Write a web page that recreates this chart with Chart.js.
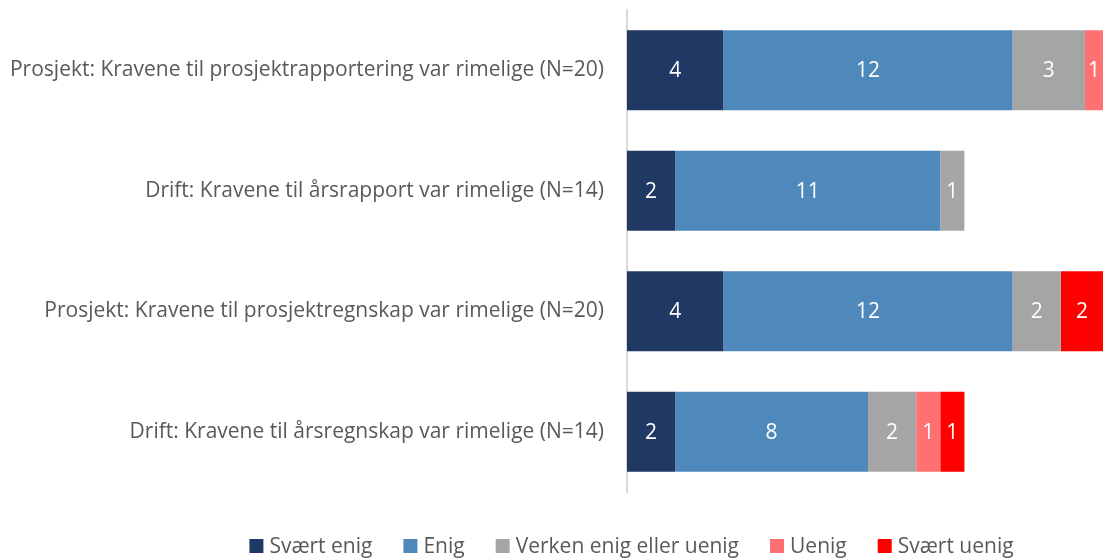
<!DOCTYPE html>
<html>
<head>
<meta charset="utf-8">
<script src="https://cdn.jsdelivr.net/npm/chart.js@4.4.0/dist/chart.umd.min.js"></script>
<style>
  html, body { margin: 0; padding: 0; background: #fff; }
  #wrap { width: 1103px; height: 559px; }
</style>
</head>
<body>
<div id="wrap"><canvas id="chart"></canvas></div>
<script>
// Data
const categories = [
    'Prosjekt: Kravene til prosjektrapportering var rimelige (N=20)',
    'Drift: Kravene til årsrapport var rimelige (N=14)',
    'Prosjekt: Kravene til prosjektregnskap var rimelige (N=20)',
    'Drift: Kravene til årsregnskap var rimelige (N=14)'
];
const seriesNames = ['Svært enig', 'Enig', 'Verken enig eller uenig', 'Uenig', 'Svært uenig'];
const svaertEnig = [4, 2, 4, 2];
const enig = [12, 11, 12, 8];
const verken = [3, 1, 2, 2];
const uenig = [1, 0, 0, 1];
const svaertUenig = [0, 0, 2, 1];
const seriesColors = ['#1F3864', '#4F89BC', '#A5A5A5', '#FF7171', '#FF0000'];

const allSeries = [svaertEnig, enig, verken, uenig, svaertUenig];
const FONT = '"Open Sans", "Noto Sans", sans-serif';
const FONT_SIZE = 21;

// white value labels in the middle of each segment
const valueLabels = {
    id: 'valueLabels',
    afterDatasetsDraw(chart) {
        const ctx = chart.ctx;
        const area = chart.chartArea;
        ctx.save();
        ctx.font = FONT_SIZE + 'px ' + FONT;
        ctx.fillStyle = '#fff';
        ctx.textAlign = 'center';
        ctx.textBaseline = 'middle';
        chart.data.datasets.forEach((ds, i) => {
            chart.getDatasetMeta(i).data.forEach((bar, j) => {
                const v = ds.data[j];
                if (!v) return;
                const p = bar.getProps(['x', 'y', 'base'], true);
                // the plot is cut at the right edge, centre on the visible part
                const right = Math.min(p.x, area.right);
                ctx.fillText(String(v), (right + p.base) / 2, p.y + 1);
            });
        });
        ctx.restore();
    }
};

// legend drawn by hand so it can sit where the original one is
const bottomLegend = {
    id: 'bottomLegend',
    afterDraw(chart) {
        const ctx = chart.ctx;
        ctx.save();
        ctx.font = FONT_SIZE + 'px ' + FONT;
        ctx.textBaseline = 'middle';
        const box = 14, gap = 6, spacing = 31;
        const widths = chart.data.datasets.map(ds => ctx.measureText(ds.label).width);
        const total = widths.reduce((a, w) => a + box + gap + w, 0) + spacing * (widths.length - 1);
        let x = chart.width / 2 + 80 - total / 2;
        const y = 546;
        chart.data.datasets.forEach((ds, i) => {
            ctx.fillStyle = ds.backgroundColor;
            ctx.fillRect(x, y - box / 2, box, box);
            x += box + gap;
            ctx.fillStyle = '#595959';
            ctx.fillText(ds.label, x, y + 1);
            x += widths[i] + spacing;
        });
        ctx.restore();
    }
};

new Chart(document.getElementById('chart'), {
    type: 'bar',
    data: {
        labels: categories,
        datasets: seriesNames.map((name, i) => ({
            label: name,
            data: allSeries[i],
            backgroundColor: seriesColors[i],
            borderWidth: 0,
            categoryPercentage: 1,
            barPercentage: 0.664
        }))
    },
    options: {
        indexAxis: 'y',
        responsive: true,
        maintainAspectRatio: false,
        animation: false,
        layout: { padding: { top: 10, bottom: 67, left: 0, right: 0 } },
        plugins: {
            legend: { display: false },
            tooltip: { enabled: false }
        },
        scales: {
            x: {
                stacked: true,
                min: 0,
                max: 19.75,
                display: false
            },
            y: {
                stacked: true,
                grid: { display: false },
                border: { display: true, color: '#D9D9D9', width: 2 },
                ticks: {
                    color: '#595959',
                    font: { family: FONT, size: FONT_SIZE },
                    padding: 15
                },
                afterFit(scale) {
                    scale.width = 627;
                    scale.paddingTop = 0;
                    scale.paddingBottom = 0;
                }
            }
        }
    },
    plugins: [valueLabels, bottomLegend]
});
</script>
</body>
</html>
